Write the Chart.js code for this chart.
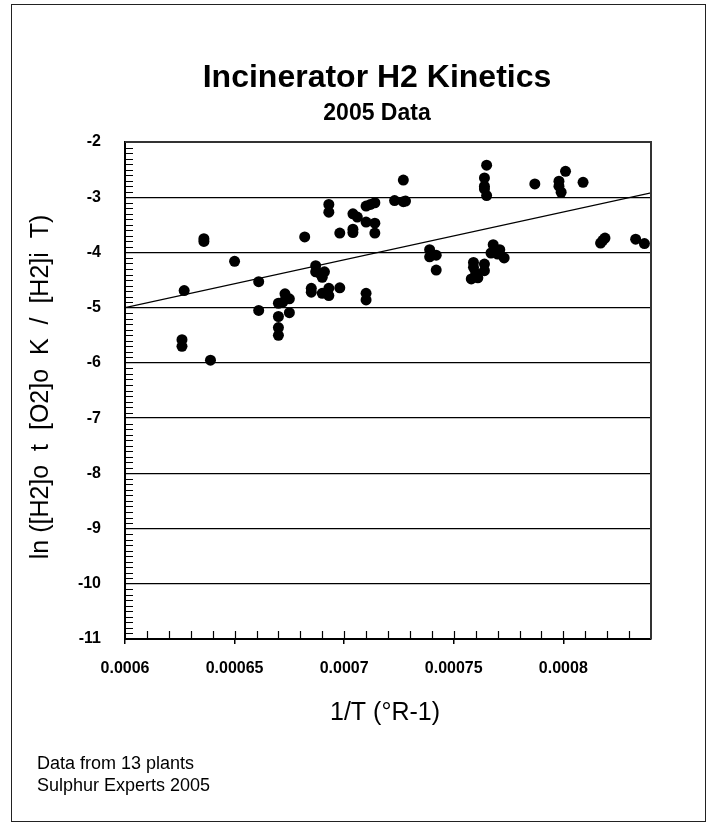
<!DOCTYPE html>
<html><head><meta charset="utf-8">
<script src="https://cdn.jsdelivr.net/npm/chart.js@4.4.1/dist/chart.umd.min.js"></script>
<style>html,body{margin:0;padding:0;background:#fff;overflow:hidden}#wrap{position:relative;width:706px;height:822px}</style>
</head><body><div id="wrap"><canvas id="c" width="706" height="822"></canvas></div>
<script>
// 1/T values (x) and ln(...) values (y) of the scatter points
const pointX = [0.000627,0.000626,0.000626,0.000636,0.000636,0.000639,0.000650,0.000661,0.000661,
  0.000670,0.000670,0.000670,0.000670,0.000673,0.000675,0.000675,0.000672,
  0.000682,0.000685,0.000685,0.000687,0.000687,0.000689,0.000691,0.000690,0.000690,0.000693,0.000693,0.000698,
  0.000693,0.000693,0.000698,0.000704,0.000704,0.000704,0.000706,0.000710,0.000710,0.000712,0.000714,0.000714,0.000714,
  0.000710,0.000710,0.000723,0.000727,0.000727,0.000728,
  0.000739,0.000739,0.000742,0.000742,
  0.000765,0.000764,0.000764,0.000764,0.000765,
  0.000759,0.000759,0.000758,0.000761,0.000760,0.000764,0.000764,
  0.000768,0.000769,0.000771,0.000773,0.000767,0.000770,
  0.000787,0.000801,0.000798,0.000798,0.000799,0.000809,
  0.000817,0.000819,0.000818,0.000833,0.000837];
const pointY = [-4.69,-5.58,-5.70,-3.75,-3.80,-5.95,-4.16,-4.53,-5.05,
  -4.92,-5.16,-5.36,-5.50,-4.75,-4.84,-5.09,-4.90,
  -3.72,-4.65,-4.72,-4.24,-4.35,-4.38,-4.35,-4.45,-4.74,-4.65,-4.78,-4.64,
  -3.13,-3.27,-3.65,-3.64,-3.58,-3.30,-3.36,-3.45,-3.16,-3.13,-3.10,-3.47,-3.65,
  -4.74,-4.86,-3.06,-2.69,-3.08,-3.07,
  -3.95,-4.08,-4.05,-4.32,
  -2.42,-2.65,-2.80,-2.85,-2.97,
  -4.18,-4.27,-4.48,-4.46,-4.37,-4.21,-4.33,
  -3.86,-3.98,-3.95,-4.10,-4.01,-4.03,
  -2.76,-2.53,-2.71,-2.80,-2.91,-2.73,
  -3.83,-3.74,-3.78,-3.76,-3.84];
// regression line end points
const trendX = [0.0006, 0.00084];
const trendY = [-5.0, -2.92];
// axis ticks
const xTicks = [0.0006, 0.00065, 0.0007, 0.00075, 0.0008];
const xTickLabels = ['0.0006', '0.00065', '0.0007', '0.00075', '0.0008'];
const yTicks = [-2, -3, -4, -5, -6, -7, -8, -9, -10, -11];
const yTickLabels = ['-2', '-3', '-4', '-5', '-6', '-7', '-8', '-9', '-10', '-11'];

const titleText = 'Incinerator H2 Kinetics';
const subtitleText = '2005 Data';
const xTitle = '1/T (°R-1)';
const yTitle = 'ln ([H2]o  t  [O2]o  K  /  [H2]i  T)';
const notes = ['Data from 13 plants', 'Sulphur Experts 2005'];

const FONT = '"Liberation Sans", Arial, Helvetica, sans-serif';

const decor = {
  id: 'decor',
  afterDraw(chart) {
    const ctx = chart.ctx, a = chart.chartArea;
    const xs = chart.scales.x, ys = chart.scales.y;
    ctx.save();
    // minor ticks, drawn inward
    ctx.strokeStyle = '#000'; ctx.lineWidth = 1.2;
    ctx.beginPath();
    for (let i = 1; i < 90; i++) {
      const v = -11 + i * 0.1;
      if (Math.abs(v - Math.round(v)) < 1e-6) continue;
      const py = Math.round(ys.getPixelForValue(v)) + 0.5;
      ctx.moveTo(a.left, py); ctx.lineTo(a.left + 8, py);
    }
    for (let i = 1; i < 24; i++) {
      const v = 0.0006 + i * 0.00001;
      const px = Math.round(xs.getPixelForValue(v)) + 0.5;
      ctx.moveTo(px, a.bottom); ctx.lineTo(px, a.bottom - 8);
    }
    ctx.stroke();
    // top & right plot border
    ctx.strokeStyle = '#333'; ctx.lineWidth = 2;
    ctx.beginPath();
    ctx.moveTo(a.left, a.top); ctx.lineTo(a.right, a.top); ctx.lineTo(a.right, a.bottom);
    ctx.stroke();
    // outer frame
    ctx.strokeStyle = '#222'; ctx.lineWidth = 1;
    ctx.strokeRect(11.5, 4.5, 694, 817);
    // texts
    ctx.fillStyle = '#000';
    ctx.textAlign = 'center'; ctx.textBaseline = 'middle';
    ctx.font = 'bold 32px ' + FONT;
    ctx.fillText(titleText, 377, 78);
    ctx.font = 'bold 23px ' + FONT;
    ctx.fillText(subtitleText, 377, 114);
    ctx.font = '25px ' + FONT;
    ctx.fillText(xTitle, 385, 713);
    ctx.save();
    ctx.translate(41, 387);
    ctx.rotate(-Math.PI / 2);
    ctx.fillText(yTitle, 0, 0);
    ctx.restore();
    ctx.textAlign = 'left';
    ctx.font = '18px ' + FONT;
    ctx.fillText(notes[0], 37, 764);
    ctx.fillText(notes[1], 37, 786);
    ctx.restore();
  }
};

new Chart(document.getElementById('c'), {
  type: 'scatter',
  data: {
    datasets: [
      {
        data: pointX.map((x, i) => ({ x, y: pointY[i] })),
        backgroundColor: '#000', borderColor: '#000', borderWidth: 0,
        pointRadius: 5.5, pointHoverRadius: 5.5, order: 1
      },
      {
        type: 'line',
        data: trendX.map((x, i) => ({ x, y: trendY[i] })),
        borderColor: '#000', borderWidth: 1.3, pointRadius: 0, fill: false, order: 2
      }
    ]
  },
  options: {
    responsive: false, animation: false, devicePixelRatio: 1,
    layout: { padding: { left: 0, top: 142, right: 55, bottom: 0 } },
    plugins: { legend: { display: false }, tooltip: { enabled: false }, title: { display: false } },
    scales: {
      x: {
        type: 'linear', min: 0.0006, max: 0.00084,
        afterBuildTicks: s => { s.ticks = xTicks.map(v => ({ value: v })); },
        afterFit: s => { s.height = 183; },
        ticks: {
          color: '#000', font: { family: FONT, size: 16, weight: 'bold' }, padding: 15,
          maxRotation: 0, autoSkip: false,
          callback: v => { const i = xTicks.findIndex(t => Math.abs(t - v) < 1e-9); return i >= 0 ? xTickLabels[i] : ''; }
        },
        grid: { drawOnChartArea: false, drawTicks: true, tickLength: 5, color: '#000', lineWidth: 1.5 },
        border: { display: true, color: '#000', width: 2 }
      },
      y: {
        type: 'linear', min: -11, max: -2,
        afterBuildTicks: s => { s.ticks = yTicks.map(v => ({ value: v })); },
        afterFit: s => { s.width = 125; },
        ticks: {
          color: '#000', font: { family: FONT, size: 16, weight: 'bold' }, padding: 24, autoSkip: false,
          callback: v => { const i = yTicks.indexOf(v); return i >= 0 ? yTickLabels[i] : ''; }
        },
        grid: { drawOnChartArea: true, drawTicks: false, color: '#000', lineWidth: 1.3 },
        border: { display: true, color: '#000', width: 2 }
      }
    }
  },
  plugins: [decor]
});
</script></body></html>
